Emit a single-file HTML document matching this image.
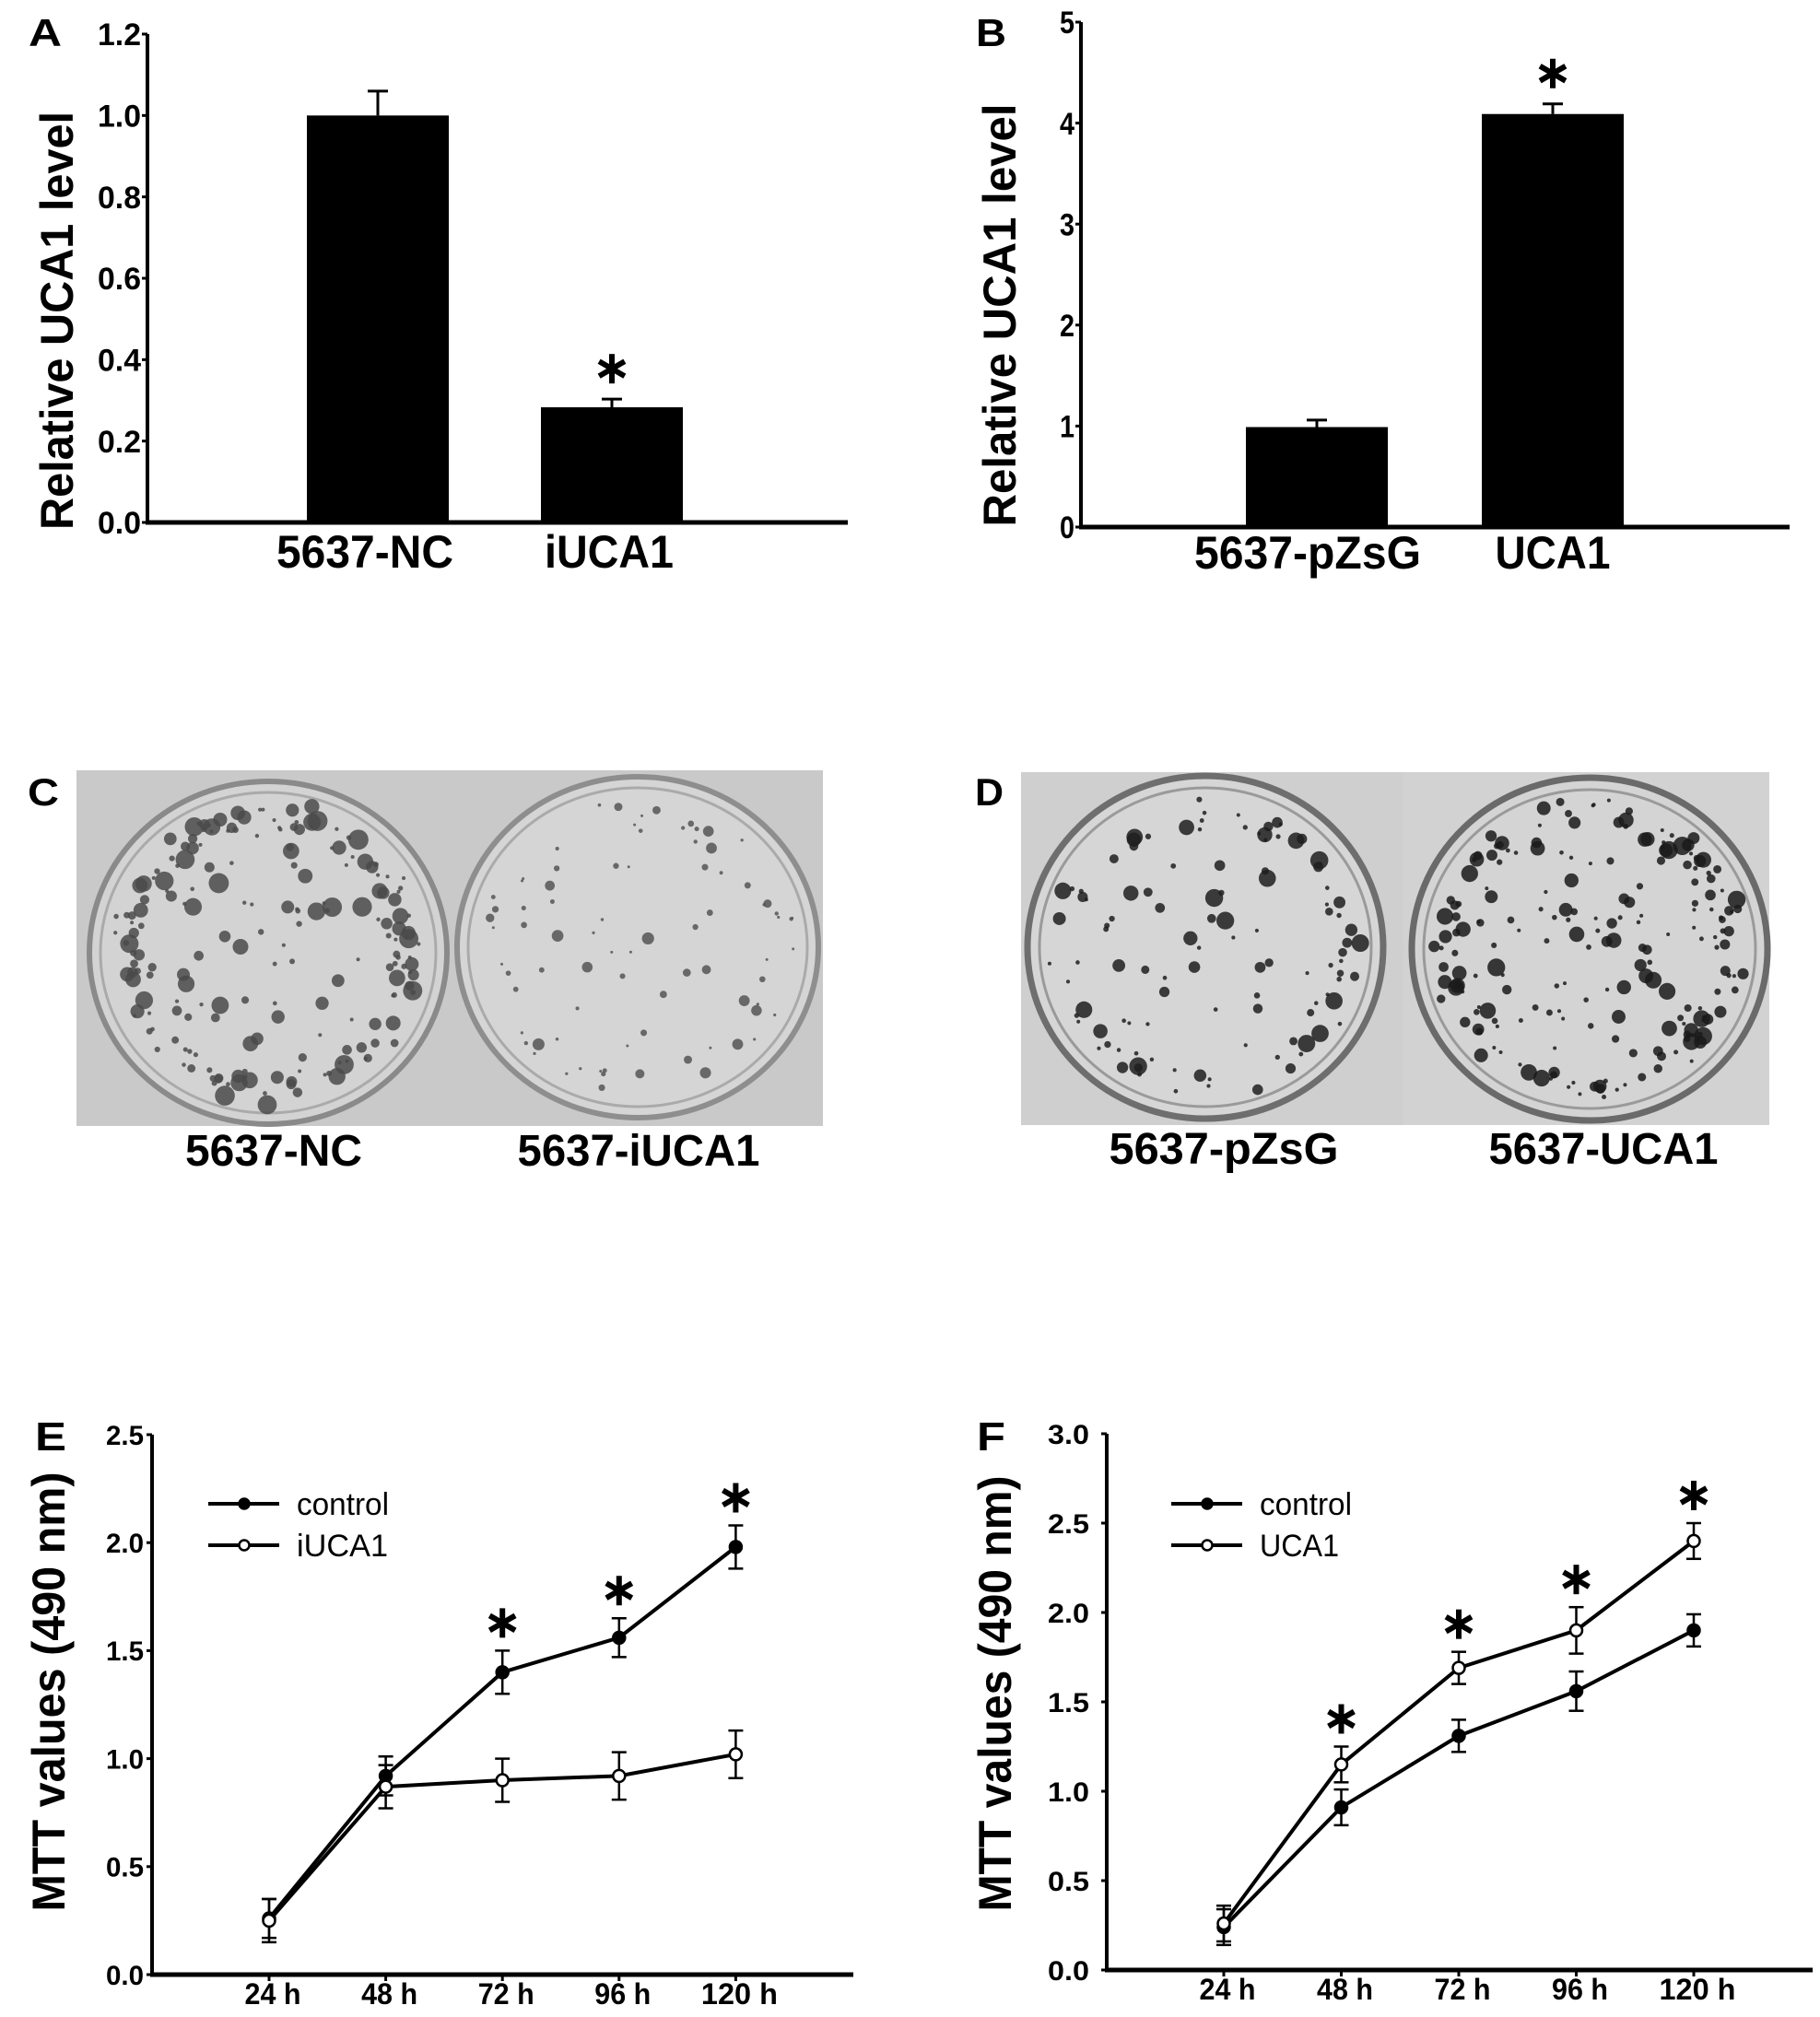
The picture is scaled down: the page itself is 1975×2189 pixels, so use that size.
<!DOCTYPE html>
<html><head><meta charset="utf-8"><style>
html,body{margin:0;padding:0;background:#fff;}
svg{display:block;font-family:"Liberation Sans",Arial,sans-serif;}
.b{font-weight:bold;}
</style></head><body>
<svg id="fig" width="1975" height="2189" viewBox="0 0 1975 2189" xmlns="http://www.w3.org/2000/svg">
<rect width="1975" height="2189" fill="#fff"/>
<text class="b" x="31" y="50" font-size="42" textLength="36" lengthAdjust="spacingAndGlyphs">A</text>
<text class="b" x="1059" y="50" font-size="42" textLength="33" lengthAdjust="spacingAndGlyphs">B</text>
<text class="b" x="30" y="874" font-size="42" textLength="34" lengthAdjust="spacingAndGlyphs">C</text>
<text class="b" x="1058" y="874" font-size="42" textLength="31" lengthAdjust="spacingAndGlyphs">D</text>
<text class="b" x="38" y="1574" font-size="44" textLength="34" lengthAdjust="spacingAndGlyphs">E</text>
<text class="b" x="1060" y="1574" font-size="44" textLength="31" lengthAdjust="spacingAndGlyphs">F</text>

<g>
<rect x="83" y="836" width="810" height="386" fill="#c9c9c9"/>
<ellipse cx="291" cy="1034" rx="194" ry="186" fill="#d3d3d3" stroke="#8a8a8a" stroke-width="6"/>
<ellipse cx="291" cy="1034" rx="182" ry="174" fill="none" stroke="#aaa" stroke-width="3"/>
<ellipse cx="692" cy="1028" rx="196" ry="185" fill="#d5d5d5" stroke="#8e8e8e" stroke-width="6"/>
<ellipse cx="692" cy="1028" rx="184" ry="173" fill="none" stroke="#aaa" stroke-width="3"/>
<g id="spotsC1"></g><g id="spotsC2"></g>
</g>
<g>
<rect x="1108" y="838" width="415" height="383" fill="#cfcfcf"/>
<rect x="1523" y="838" width="397" height="383" fill="#d2d2d2"/>
<ellipse cx="1308" cy="1028" rx="193" ry="186" fill="#d6d6d6" stroke="#6e6e6e" stroke-width="7"/>
<ellipse cx="1308" cy="1028" rx="180" ry="173" fill="none" stroke="#9a9a9a" stroke-width="3"/>
<ellipse cx="1725" cy="1030" rx="193" ry="186" fill="#d4d4d4" stroke="#6a6a6a" stroke-width="7"/>
<ellipse cx="1725" cy="1030" rx="180" ry="173" fill="none" stroke="#9a9a9a" stroke-width="3"/>
<g id="spotsD1"></g><g id="spotsD2"></g>
</g>
<g class="b" font-size="48" text-anchor="middle">
<text x="297" y="1265" textLength="192" lengthAdjust="spacingAndGlyphs">5637-NC</text>
<text x="693" y="1265" textLength="263" lengthAdjust="spacingAndGlyphs">5637-iUCA1</text>
<text x="1328" y="1263" textLength="249" lengthAdjust="spacingAndGlyphs">5637-pZsG</text>
<text x="1740" y="1263" textLength="249" lengthAdjust="spacingAndGlyphs">5637-UCA1</text>
</g>
<g id="charts"></g>
</svg>
<script>
// ---- Panel A data ----
const catsA = ["5637-NC", "iUCA1"];
const valsA = [1.0, 0.283];
const errA = [0.06, 0.02];
const sigA = [false, true];
const ticksA = [0.0, 0.2, 0.4, 0.6, 0.8, 1.0, 1.2];
const tickLabelsA = ["0.0", "0.2", "0.4", "0.6", "0.8", "1.0", "1.2"];
// ---- Panel B data ----
const catsB = ["5637-pZsG", "UCA1"];
const valsB = [0.99, 4.09];
const errB = [0.07, 0.1];
const sigB = [false, true];
const ticksB = [0, 1, 2, 3, 4, 5];
const tickLabelsB = ["0", "1", "2", "3", "4", "5"];
// ---- Panel E data ----
const timesE = ["24 h", "48 h", "72 h", "96 h", "120 h"];
const ctrlE = [0.26, 0.92, 1.40, 1.56, 1.98];
const ctrlErrE = [0.09, 0.09, 0.10, 0.09, 0.10];
const iucaE = [0.25, 0.87, 0.90, 0.92, 1.02];
const iucaErrE = [0.10, 0.10, 0.10, 0.11, 0.11];
const sigE = [false, false, true, true, true];
const ticksE = [0, 0.5, 1.0, 1.5, 2.0, 2.5];
const tickLabelsE = ["0.0", "0.5", "1.0", "1.5", "2.0", "2.5"];
// ---- Panel F data ----
const timesF = ["24 h", "48 h", "72 h", "96 h", "120 h"];
const ctrlF = [0.24, 0.91, 1.31, 1.56, 1.90];
const ctrlErrF = [0.10, 0.10, 0.09, 0.11, 0.09];
const ucaF = [0.26, 1.15, 1.69, 1.90, 2.40];
const ucaErrF = [0.10, 0.10, 0.09, 0.13, 0.10];
const sigF = [false, true, true, true, true];
const ticksF = [0, 0.5, 1.0, 1.5, 2.0, 2.5, 3.0];
const tickLabelsF = ["0.0", "0.5", "1.0", "1.5", "2.0", "2.5", "3.0"];

const NS = "http://www.w3.org/2000/svg";
const root = document.getElementById("charts");
function mk(tag, attrs, parent, text) {
  const e = document.createElementNS(NS, tag);
  for (const k in attrs) e.setAttribute(k, attrs[k]);
  if (text !== undefined) e.textContent = text;
  (parent || root).appendChild(e);
  return e;
}
function star(cx, cy, s, parent, name) {
  const g = mk("g", {stroke: "#000", "stroke-width": 6, "stroke-linecap": "butt"}, parent);
  
  
  for (let i = 0; i < 3; i++) {
    const a = Math.PI / 2 + i * Math.PI / 3;
    mk("line", {x1: cx - s * Math.cos(a), y1: cy - s * Math.sin(a), x2: cx + s * Math.cos(a), y2: cy + s * Math.sin(a)}, g);
  }
}
function yAxis(cfg, g) {
  const ax = mk("line", {x1: cfg.x0, y1: cfg.yScale(cfg.ticks[cfg.ticks.length - 1]), x2: cfg.x0, y2: cfg.yScale(0) + 2, stroke: "#000", "stroke-width": 4}, g);
  
  
  const xa = mk("line", {x1: cfg.x0 - 2, y1: cfg.yScale(0), x2: cfg.xEnd, y2: cfg.yScale(0), stroke: "#000", "stroke-width": 5}, g);
  
  
  cfg.ticks.forEach((t, i) => {
    const y = cfg.yScale(t);
    mk("line", {x1: cfg.x0 - 6, y1: y, x2: cfg.x0, y2: y, stroke: "#000", "stroke-width": 3}, g);
    const tl = mk("text", {x: cfg.labelRight, y: y + cfg.fs * 0.36, "text-anchor": "end", "font-size": cfg.fs, "font-weight": "bold", textLength: cfg.tlw, lengthAdjust: "spacingAndGlyphs"}, g, cfg.labels[i]);
    
    
  });
  const tt = mk("text", {x: 0, y: 0, "text-anchor": "middle", "font-size": 50, "font-weight": "bold", transform: "translate(" + cfg.titleX + "," + cfg.titleY + ") rotate(-90)", textLength: cfg.titleLen, lengthAdjust: "spacingAndGlyphs"}, g, cfg.title);
  
  
}
function barChart(cfg) {
  const g = mk("g", {});
  
  
  const ppu = (cfg.y0 - cfg.yTop) / cfg.ymax;
  cfg.yScale = v => cfg.y0 - v * ppu;
  yAxis(cfg, g);
  cfg.cats.forEach((c, i) => {
    const x = cfg.barX[i], w = cfg.barW;
    const cx = x + w / 2;
    const yv = cfg.yScale(cfg.vals[i]);
    const ye = cfg.yScale(cfg.vals[i] + cfg.errs[i]);
    const eb = mk("line", {x1: cx, y1: yv, x2: cx, y2: ye, stroke: "#000", "stroke-width": 3}, g);
    
    
    mk("line", {x1: cx - 11, y1: ye, x2: cx + 11, y2: ye, stroke: "#000", "stroke-width": 3}, g);
    const r = mk("rect", {x: x, y: yv, width: w, height: cfg.y0 - yv, fill: "#000"}, g);
    
    
    if (cfg.sig[i]) star(cx, ye - 33, 16, g, 'significance-star');
    const lb = mk("text", {x: cfg.labelX[i], y: cfg.labelY, "text-anchor": "middle", "font-size": 50, "font-weight": "bold", textLength: cfg.labelW[i], lengthAdjust: "spacingAndGlyphs"}, g, c);
    
    
  });
}
function lineChart(cfg) {
  const g = mk("g", {});
  
  
  const ppu = (cfg.y0 - cfg.yTop) / cfg.ymax;
  cfg.yScale = v => cfg.y0 - v * ppu;
  const xs = i => cfg.xFirst + i * cfg.xStep;
  yAxis(cfg, g);
  cfg.times.forEach((t, i) => {
    mk("line", {x1: xs(i), y1: cfg.y0, x2: xs(i), y2: cfg.y0 + 7, stroke: "#000", "stroke-width": 3}, g);
    const tl = mk("text", {x: xs(i) + 4, y: cfg.y0 + 32, "text-anchor": "middle", "font-size": 32, "font-weight": "bold", textLength: t.length > 4 ? 83 : 61, lengthAdjust: "spacingAndGlyphs"}, g, t);
    
    
  });
  cfg.series.forEach((s, si) => {
    const pts = s.vals.map((v, i) => xs(i) + "," + cfg.yScale(v)).join(" ");
    const pl = mk("polyline", {points: pts, fill: "none", stroke: "#000", "stroke-width": 4}, g);
    
    
    s.vals.forEach((v, i) => {
      const x = xs(i), y1 = cfg.yScale(v - s.errs[i]), y2 = cfg.yScale(v + s.errs[i]);
      mk("line", {x1: x, y1: y1, x2: x, y2: y2, stroke: "#000", "stroke-width": 2.5}, g);
      mk("line", {x1: x - 8, y1: y1, x2: x + 8, y2: y1, stroke: "#000", "stroke-width": 2.5}, g);
      mk("line", {x1: x - 8, y1: y2, x2: x + 8, y2: y2, stroke: "#000", "stroke-width": 2.5}, g);
    });
  });
  cfg.series.forEach(s => {
    s.vals.forEach((v, i) => {
      const c = mk("circle", {cx: xs(i), cy: cfg.yScale(v), r: 6.5, fill: s.filled ? "#000" : "#fff", stroke: "#000", "stroke-width": 2.5}, g);
      
      
    });
  });
  cfg.sig.forEach((sg, i) => {
    if (!sg) return;
    const top = Math.max(...cfg.series.map(s => s.vals[i] + s.errs[i]));
    star(xs(i), cfg.yScale(top) - 30, 16, g, 'significance-star');
  });
  cfg.series.forEach((s, si) => {
    const ly = cfg.legY + si * 45;
    const lg = mk("g", {}, g);
    
    
    mk("line", {x1: cfg.legX, y1: ly, x2: cfg.legX + 77, y2: ly, stroke: "#000", "stroke-width": 4}, lg);
    mk("circle", {cx: cfg.legX + 39, cy: ly, r: 5.5, fill: s.filled ? "#000" : "#fff", stroke: "#000", "stroke-width": 2.5}, lg);
    mk("text", {x: cfg.legX + 96, y: ly + 12, "font-size": 34, textLength: s.legW, lengthAdjust: "spacingAndGlyphs"}, lg, s.label);
  });
}

barChart({name: "chart-a", cats: catsA, vals: valsA, errs: errA, sig: sigA, ticks: ticksA, labels: tickLabelsA,
  x0: 160, xEnd: 920, y0: 567, yTop: 37, ymax: 1.2, labelRight: 153, fs: 34, tlw: 47,
  barX: [333, 587], barW: 154, labelX: [396, 661], labelY: 616, labelW: [192, 140],
  title: "Relative UCA1 level", titleX: 79, titleY: 348, titleLen: 454});
barChart({name: "chart-b", cats: catsB, vals: valsB, errs: errB, sig: sigB, ticks: ticksB, labels: tickLabelsB,
  x0: 1173, xEnd: 1942, y0: 572, yTop: 24, ymax: 5, labelRight: 1166, fs: 34, tlw: 16,
  barX: [1352, 1608], barW: 154, labelX: [1419, 1685], labelY: 617, labelW: [246, 125],
  title: "Relative UCA1 level", titleX: 1102, titleY: 342, titleLen: 459});
lineChart({name: "chart-e", times: timesE, sig: sigE, ticks: ticksE, labels: tickLabelsE,
  x0: 165, xEnd: 926, y0: 2143, yTop: 1557, ymax: 2.5, labelRight: 156, fs: 30, tlw: 41,
  xFirst: 292, xStep: 126.6, legX: 226, legY: 1632,
  series: [{key: "control", label: "control", vals: ctrlE, errs: ctrlErrE, filled: true, legW: 100},
           {key: "iuca1", label: "iUCA1", vals: iucaE, errs: iucaErrE, filled: false, legW: 99}],
  title: "MTT values (490 nm)", titleX: 70, titleY: 1836, titleLen: 477});
lineChart({name: "chart-f", times: timesF, sig: sigF, ticks: ticksF, labels: tickLabelsF,
  x0: 1201, xEnd: 1967, y0: 2138, yTop: 1556, ymax: 3.0, labelRight: 1182, fs: 30, tlw: 45,
  xFirst: 1328, xStep: 127.5, legX: 1271, legY: 1632,
  series: [{key: "control", label: "control", vals: ctrlF, errs: ctrlErrF, filled: true, legW: 100},
           {key: "uca1", label: "UCA1", vals: ucaF, errs: ucaErrF, filled: false, legW: 86}],
  title: "MTT values (490 nm)", titleX: 1097, titleY: 1838, titleLen: 473});

// decorative colony spots (photo texture)
let seed = 12345;
function rnd() { seed = (seed * 1103515245 + 12345) % 2147483648; return seed / 2147483648; }
function spots(id, cx, cy, rx, ry, n, rmin, rmax, col, edgeBias) {
  const g = document.getElementById(id);
  for (let i = 0; i < n; i++) {
    const a = rnd() * Math.PI * 2;
    let d = Math.sqrt(rnd());
    if (edgeBias && rnd() < edgeBias) d = 0.8 + rnd() * 0.15;
    const r = rmin + Math.pow(rnd(), 2.5) * (rmax - rmin);
    mk("circle", {cx: cx + Math.cos(a) * d * rx * 0.95, cy: cy + Math.sin(a) * d * ry * 0.95, r: r, fill: col, opacity: 0.85}, g);
  }
}
spots("spotsC1", 291, 1034, 182, 174, 200, 2, 11, "#4a4a4a", 0.5);
spots("spotsC2", 692, 1028, 184, 173, 80, 1.5, 7, "#555", 0.3);
spots("spotsD1", 1308, 1028, 180, 173, 110, 2, 10, "#1e1e1e", 0.3);
spots("spotsD2", 1725, 1030, 180, 173, 200, 2, 10, "#1a1a1a", 0.4);
</script>
</body></html>
